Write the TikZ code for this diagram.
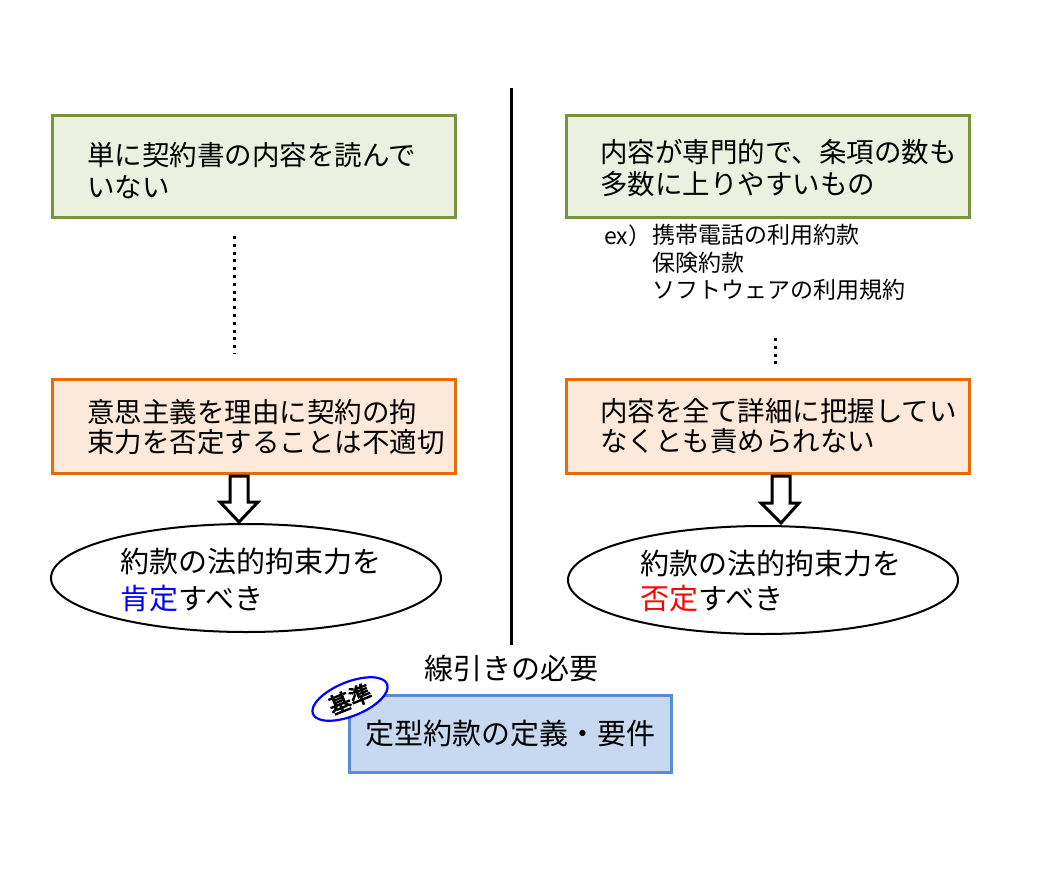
\documentclass[tikz,border=0pt]{standalone}
\usepackage{fontspec}
\setmainfont{Noto Sans CJK JP}
\newfontfamily\badgefont[FakeBold=4]{Noto Sans CJK JP}
\usetikzlibrary{shapes.geometric}
\definecolor{gfill}{HTML}{EBF1DE}
\definecolor{gline}{HTML}{77933C}
\definecolor{ofill}{HTML}{FDE9D9}
\definecolor{oline}{HTML}{E46C0A}
\definecolor{bfill}{HTML}{C6D9F1}
\definecolor{bline}{HTML}{558ED5}
\begin{document}
\begin{tikzpicture}[x=1pt,y=-1pt,
  box/.style={draw, line width=3pt, inner sep=0, minimum width=403pt},
  greenbox/.style={box, draw=gline, fill=gfill, minimum height=102pt},
  orangebox/.style={box, draw=oline, fill=ofill, minimum height=94pt},
  bluebox/.style={draw=bline, fill=bfill, line width=3pt, minimum width=322pt, minimum height=77pt, inner sep=0, font=\fontsize{29}{29}\selectfont},
  boxtxt/.style={inner sep=0, anchor=west, align=left, font=\fontsize{27.5}{#1}\selectfont},
  ovaltxt/.style={inner sep=0, anchor=west, align=left, font=\fontsize{29}{#1}\selectfont},
  oval/.style={draw, ellipse, line width=2pt, minimum width=390pt, minimum height=108pt, inner sep=0},
  hollow/.style={draw, fill=white, line width=3pt, line join=miter},
  dotline/.style={line width=3pt, dash pattern=on 3pt off 4.8pt},
  extxt/.style={inner sep=0, anchor=west, align=left, font=\fontsize{23}{#1}\selectfont},
]
\useasboundingbox (0,0) rectangle (1040,880);

% divider
\coordinate (divtop) at (511,88);
\coordinate (divbot) at (511,645);
\draw[line width=3pt] (divtop) -- (divbot);

% left column
\node[greenbox] (lb1) at (254,166.5) {};
\node[boxtxt=32] (lt1) at (87,171) {単に契約書の内容を読んで\\いない};
\coordinate (ld1) at (234,236);
\coordinate (ld2) at (234,354);
\draw[dotline] (ld1) -- (ld2);
\node[orangebox] (lb2) at (254,426.5) {};
\node[boxtxt=30] (lt2) at (87,427.5) {意思主義を理由に契約の拘\\束力を否定することは不適切};
\draw[hollow] (230,476) -- (230,502) -- (220,502) -- (239,522) -- (258,502) -- (248,502) -- (248,476) -- cycle;
\node[oval] (lo) at (246,578) {};
\node[ovaltxt=37] (lot) at (120,579.5) {約款の法的拘束力を\\\textcolor{blue}{肯定}すべき};

% right column
\node[greenbox] (rb1) at (767.5,166.5) {};
\node[boxtxt=32] (rt1) at (600,168) {内容が専門的で、条項の数も\\多数に上りやすいもの};
\node[extxt=27.5] (ex) at (604,236) {ex）};
\node[extxt=27.5] (exl) at (652,262.5) {携帯電話の利用約款\\保険約款\\ソフトウェアの利用規約};
\coordinate (rd1) at (775,338);
\coordinate (rd2) at (775,364);
\draw[dotline] (rd1) -- (rd2);
\node[orangebox] (rb2) at (767.5,426.5) {};
\node[boxtxt=30] (rt2) at (600,426) {内容を全て詳細に把握してい\\なくとも責められない};
\draw[hollow] (772,476) -- (772,503) -- (761,503) -- (781,523) -- (799,503) -- (790,503) -- (790,476) -- cycle;
\node[oval] (ro) at (763,580) {};
\node[ovaltxt=35] (rot) at (640,580.5) {約款の法的拘束力を\\\textcolor{red}{否定}すべき};

% bottom
\node[inner sep=0, font=\fontsize{29}{29}\selectfont] (need) at (511,668) {線引きの必要};
\node[bluebox] (def) at (510.5,734) {定型約款の定義・要件};
\node[draw=blue, fill=white, line width=2.2pt, ellipse, rotate=22, minimum width=80pt, minimum height=34pt, inner sep=0, font=\badgefont\fontsize{22}{22}\selectfont] (badge) at (350,699) {基準};
\end{tikzpicture}
\end{document}
